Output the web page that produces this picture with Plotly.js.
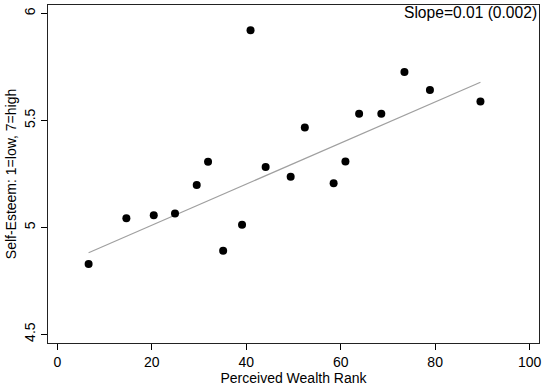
<!DOCTYPE html>
<html><head><meta charset="utf-8">
<script src="https://cdn.plot.ly/plotly-3.0.1.min.js"></script>
<style>html,body{margin:0;padding:0;background:#fff}#chart{width:542px;height:386px}</style>
</head><body><div id="chart"></div>
<script>
var wealthRank = [6.6, 14.6, 20.4, 24.9, 29.5, 31.9, 35.1, 39.1, 40.9, 44.1, 49.4, 52.4, 58.5, 61.0, 63.9, 68.6, 73.5, 78.9, 89.6];
var selfEsteem = [4.829, 5.043, 5.057, 5.065, 5.198, 5.307, 4.891, 5.012, 5.922, 5.282, 5.237, 5.467, 5.206, 5.308, 5.531, 5.531, 5.727, 5.642, 5.589];
var fitX = [6.6, 89.6];
var fitY = [4.881, 5.679];
var xTicks = [0, 20, 40, 60, 80, 100];
var yTicks = [4.5, 5, 5.5, 6];
var yTickLabels = ['4.5', '5', '5.5', '6'];
var slopeLabel = 'Slope=0.01 (0.002)';

var font = 'Liberation Sans, Arial, sans-serif';
var traces = [
  {x: fitX, y: fitY, mode: 'lines', line: {color: '#a0a0a0', width: 1.2}, hoverinfo: 'skip', showlegend: false},
  {x: wealthRank, y: selfEsteem, mode: 'markers', marker: {color: '#000', size: 8}, showlegend: false}
];
var layout = {
  width: 542, height: 386,
  margin: {l: 48, r: 3, t: 5, b: 43},
  paper_bgcolor: '#fff', plot_bgcolor: '#fff',
  font: {family: font, size: 14, color: '#000'},
  xaxis: {range: [-2, 102], tickvals: xTicks, ticks: 'outside', ticklen: 6, tickcolor: '#000',
    showgrid: false, zeroline: false, showline: true, linecolor: '#222', linewidth: 1.2, mirror: true,
    tickfont: {family: font, size: 14}, title: {text: 'Perceived Wealth Rank', font: {family: font, size: 14}, standoff: 0}},
  yaxis: {range: [4.459, 6.04], tickvals: yTicks, ticktext: yTickLabels, tickangle: -90, ticks: 'outside', ticklen: 6, tickcolor: '#000',
    showgrid: false, zeroline: false, showline: true, linecolor: '#222', linewidth: 1.2, mirror: true,
    tickfont: {family: font, size: 14}, title: {text: 'Self-Esteem: 1=low, 7=high', font: {family: font, size: 14}, standoff: 2}},
  annotations: [{xref: 'paper', yref: 'paper', x: 1, y: 1, xanchor: 'right', yanchor: 'top', text: slopeLabel,
    showarrow: false, font: {family: font, size: 15.6, color: '#000'}, xshift: 0, yshift: 3}]
};
Plotly.newPlot('chart', traces, layout, {displayModeBar: false, staticPlot: true});
</script></body></html>
